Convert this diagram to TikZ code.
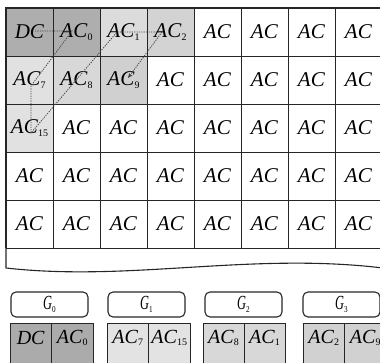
\documentclass[tikz,border=0pt]{standalone}
\usepackage{fontspec}
\usepackage{graphicx}
\setmainfont{Liberation Serif}
\usetikzlibrary{calc,arrows.meta}
\definecolor{gdc}{HTML}{AEAEAE}
\definecolor{gone}{HTML}{DCDCDC}
\definecolor{gtwo}{HTML}{D3D3D3}
\definecolor{gsev}{HTML}{E1E1E1}
\definecolor{geig}{HTML}{D8D8D8}
\definecolor{gnin}{HTML}{D0D0D0}
\definecolor{bzero}{HTML}{ABABAB}
\definecolor{bone}{HTML}{E3E3E3}
\definecolor{btwo}{HTML}{D8D8D8}
\definecolor{bthr}{HTML}{D1D1D1}
\definecolor{edge}{HTML}{262626}
\newcommand{\acx}[1]{\textit{AC}\raisebox{-0.3ex}{\fontsize{10}{10}\selectfont #1}}
\newcommand{\gx}[1]{\scalebox{0.62}[1]{\textit{G}}\raisebox{-0.3ex}{\scalebox{0.8}[1]{\fontsize{9}{9}\selectfont #1}}}
\begin{document}
\begin{tikzpicture}[x=1pt,y=-1pt,
  cell/.style={draw=edge, line width=0.8pt, minimum width=47pt, minimum height=48pt, inner sep=0pt, font=\fontsize{21}{21}\selectfont},
  half/.style={draw=edge, line width=0.9pt},
  btext/.style={inner sep=0pt, font=\fontsize{20}{20}\selectfont},
  gbox/.style={draw=edge, line width=1.1pt, rounded corners=5pt, minimum width=77pt, minimum height=25pt, inner sep=0pt, font=\fontsize{20}{20}\selectfont},
  zig/.style={draw=black!75, line width=0.8pt, dash pattern=on 1.2pt off 1.2pt}]
\useasboundingbox (0,0) rectangle (380,363);
\begin{scope}
\clip (0,0) rectangle (380,363);
% special cells
\node[cell, fill=gdc] (c00) at (29.5,32) {\textit{DC}};
\node[cell, fill=gdc] (c01) at (76.5,32) {\acx{0}};
\node[cell, fill=gone] (c02) at (123.5,32) {\acx{1}};
\node[cell, fill=gtwo] (c03) at (170.5,32) {\acx{2}};
\node[cell, fill=gsev] (c10) at (29.5,80) {\acx{7}};
\node[cell, fill=geig] (c11) at (76.5,80) {\acx{8}};
\node[cell, fill=gnin] (c12) at (123.5,80) {\acx{9}};
\node[cell, fill=gsev] (c20) at (29.5,128) {\acx{15}};
% plain cells
\foreach \i in {4,...,7} \node[cell] (c0\i) at (29.5+47*\i,32) {\textit{AC}};
\foreach \i in {3,...,7} \node[cell] (c1\i) at (29.5+47*\i,80) {\textit{AC}};
\foreach \i in {1,...,7} \node[cell] (c2\i) at (29.5+47*\i,128) {\textit{AC}};
\foreach \j in {3,4} \foreach \i in {0,...,7} \node[cell] (c\j\i) at (29.5+47*\i,32+48*\j) {\textit{AC}};
% outer border
\draw[edge, line width=1.5pt] (6,248) -- (6,8) -- (383,8);
% wavy box
\draw[edge, line width=1.1pt] (6,248) -- (6,268) .. controls (130,282) and (250,252) .. (383,268) -- (383,248);
% zigzag path
\coordinate (z0) at ($(c00)+(5.5,-1)$);
\coordinate (z1) at ($(c01)+(-4.5,-1)$);
\coordinate (z2) at ($(c10)+(1.5,6)$);
\coordinate (z3) at ($(c20)+(1.5,5)$);
\coordinate (z4) at ($(c02)+(-6.5,0)$);
\coordinate (z5) at ($(c03)+(-8.5,0)$);
\coordinate (z6) at ($(c12)+(4.5,-2)$);
\draw[zig] (z0) -- (z1) -- (z2) -- (z3) -- (z4) -- (z5);
\draw[zig, -{Stealth[length=5pt,width=4pt]}] (z5) -- (z6);
% groups
\node[gbox] (g0) at (49.5,304.5) {\gx{0}};
\node[gbox] (g1) at (146.5,304.5) {\gx{1}};
\node[gbox] (g2) at (243.5,304.5) {\gx{2}};
\node[gbox] (g3) at (341.5,304.5) {\gx{3}};
% blocks
\draw[half, fill=bzero] (10,323) rectangle (51.5,372);
\draw[half, fill=bzero] (51.5,323) rectangle (93,372);
\draw[half, fill=bone] (107,323) rectangle (148.5,372);
\draw[half, fill=bone] (148.5,323) rectangle (190,372);
\draw[half, fill=btwo] (203,323) rectangle (244,372);
\draw[half, fill=btwo] (244,323) rectangle (285,372);
\draw[half, fill=bthr] (303,323) rectangle (344.5,372);
\draw[half, fill=bthr] (344.5,323) rectangle (386,372);
\node[btext] (b00) at (30.75,338) {\textit{DC}};
\node[btext] (b01) at (72.25,338) {\acx{0}};
\node[btext] (b10) at (127.75,338) {\acx{7}};
\node[btext] (b11) at (169.25,338) {\acx{15}};
\node[btext] (b20) at (223.5,338) {\acx{8}};
\node[btext] (b21) at (264.5,338) {\acx{1}};
\node[btext] (b30) at (323.75,338) {\acx{2}};
\node[btext] (b31) at (365.25,338) {\acx{9}};
\end{scope}
\end{tikzpicture}
\end{document}
